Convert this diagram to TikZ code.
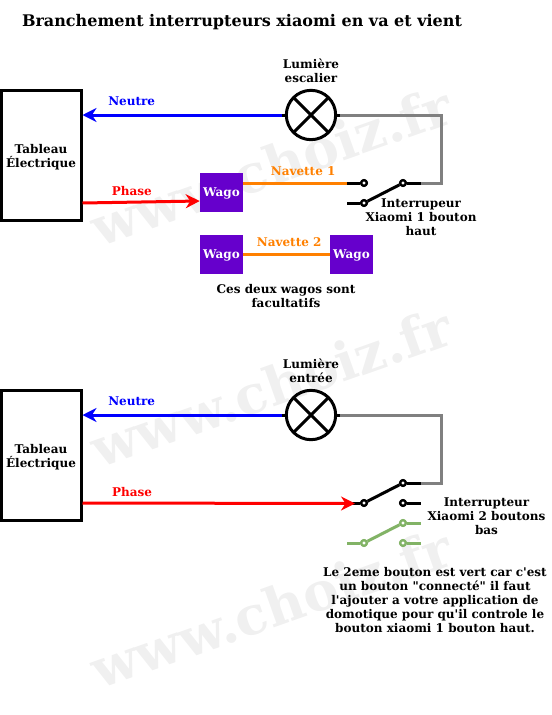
\documentclass[tikz,border=0pt]{standalone}
\usepackage{fontspec}
\setmainfont{DejaVu Serif}[BoldFont={DejaVu Serif Bold}, Ligatures=TeXOff]
\usetikzlibrary{positioning, calc, arrows.meta}
\definecolor{wagoviolet}{HTML}{6600CC}
\definecolor{navette}{HTML}{FF8000}
\definecolor{connecte}{HTML}{82B366}
\tikzset{
every node/.style = {font = \bfseries\fontsize{9}{10.5}\selectfont, align = center, inner sep = 0pt},
tableau/.style = {rectangle, draw, line width = 2.25pt, fill = white, minimum width = 60pt,
   minimum height = 97pt},
lampe/.style = {circle, draw, line width = 2.25pt, minimum size = 37pt, path picture = {
   \draw [line width = 2.25pt] (path picture bounding box.south west) -- (path picture bounding box.north east)
   (path picture bounding box.north west) -- (path picture bounding box.south east);}},
wago/.style = {rectangle, fill = wagoviolet, text = white, minimum width = 32.25pt, minimum height = 29.25pt},
borne/.style = {circle, draw = black, line width = 1.7pt, fill = white, minimum size = 4.2pt},
borneverte/.style = {borne, draw = connecte},
fil/.style = {line width = 2.25pt},
fleche/.style = {fil, -{Stealth[length = 10.5pt, width = 10.5pt]}},
marque/.style = {text = black!6, rotate = 19.5, font = \bfseries\fontsize{40}{42}\selectfont}
}
\begin{document}
\begin{tikzpicture}[x = 0.75pt, y = -0.75pt]
\useasboundingbox (0,0) rectangle (552,715);

%% Watermarks
\foreach \i/\y in {1/166, 2/387, 3/608}
   \node [marque] (marque\i) at (271,\y) {www.choiz.fr};

\node [font = \bfseries\fontsize{12}{14}\selectfont] (titre) at (242,22) {Branchement interrupteurs xiaomi en va et vient};

%% Escalier
\node [tableau] (tab1) at (41,155.5) {};
\node (txt1) at (41,157.5) {Tableau\\Électrique};
\node [lampe] (lamp1) at (311,115) {};
\node (lab1) [above = 4.5pt of lamp1] {Lumière\\escalier};
\node [wago] (w1) at (221.5,192.5) {\rule{0pt}{8pt}Wago};
\node [wago] (w2) at (221.5,254.5) {\rule{0pt}{8pt}Wago};
\node [wago] (w3) at (351.5,254.5) {\rule{0pt}{8pt}Wago};
\node [borne] (b1) at (364,183) {};
\node [borne] (b2) at (403,183) {};
\node [borne] (b3) at (364,203) {};
\coordinate (c1) at (347,183);
\coordinate (c2) at (421,183);
\coordinate (c3) at (441,183);
\coordinate (c4) at (441,115);
\coordinate (c5) at (347,203);
\coordinate (p1) at (tab1.east |- 0,203);

\draw [fleche, blue] (lamp1) -- (lamp1 -| tab1.east) node [midway, above = 6pt, xshift = -39pt, text = blue] (neutre1) {Neutre};
\draw [fleche, red] (p1) -- (w1.west |- 0,201) node [midway, above = 4pt, xshift = -7pt, text = red] (phase1) {Phase};
\draw [fil, navette] (w1.east |- c1) -- (c1) node [midway, above = 4.5pt, xshift = 6pt, text = navette] (nav1) {Navette 1};
\draw [fil, navette] (w2) -- (w3) node [midway, above = 5pt, xshift = 2pt, text = navette] (nav2) {Navette 2};
\draw [fil, black!50] (lamp1.east) -- (c4) -- (c3) -- (c2);
\draw [fil] (lamp1.west) -- ++(-3,0);
\draw [fil] (lamp1.east) -- ++(3,0);
\draw [fil] (c1) -- (b1);
\draw [fil] (b2) -- (c2);
\draw [fil] (c5) -- (b3);
\draw [fil] (b3) -- (b2);
\foreach \b in {b1,b2,b3} \node [borne] at (\b) {};
\node (int1) at (421,217) {Interrupeur\\Xiaomi 1 bouton\\haut};
\node (fac) at (286,296) {Ces deux wagos sont\\facultatifs};

%% Entree
\node [tableau] (tab2) at (41,455.5) {};
\node (txt2) at (41,457.5) {Tableau\\Électrique};
\node [lampe] (lamp2) at (311,415) {};
\node (lab2) [above = 4.5pt of lamp2] {Lumière\\entrée};
\node [borne] (b4) at (364,503) {};
\node [borne] (b5) at (403,483) {};
\node [borne] (b6) at (403,503) {};
\node [borneverte] (b7) at (403,523) {};
\node [borneverte] (b8) at (364,543) {};
\node [borneverte] (b9) at (403,543) {};
\coordinate (d1) at (347,503);
\coordinate (d2) at (421,483);
\coordinate (d3) at (441,483);
\coordinate (d4) at (441,415);
\coordinate (d5) at (421,503);
\coordinate (d6) at (421,523);
\coordinate (d7) at (347,543);
\coordinate (d8) at (421,543);

\draw [fleche, blue] (lamp2) -- (lamp2 -| tab2.east) node [midway, above = 6pt, xshift = -39pt, text = blue] (neutre2) {Neutre};
\draw [fil] (d1) -- (b4);
\draw [fleche, red] (tab2.east |- d1) -- (355,503.5) node [midway, above = 4pt, xshift = -65pt, text = red] (phase2) {Phase};
\draw [fil, black!50] (lamp2.east) -- (d4) -- (d3) -- (d2);
\draw [fil] (lamp2.west) -- ++(-3,0);
\draw [fil] (lamp2.east) -- ++(3,0);
\draw [fil] (b5) -- (d2);
\draw [fil] (b6) -- (d5);
\draw [fil] (b4) -- (b5);
\draw [fil, connecte] (b7) -- (d6);
\draw [fil, connecte] (d7) -- (b8);
\draw [fil, connecte] (b9) -- (d8);
\draw [fil, connecte] (b8) -- (b7);
\foreach \b in {b4,b5,b6} \node [borne] at (\b) {};
\foreach \b in {b7,b8,b9} \node [borneverte] at (\b) {};
\node (int2) at (486.5,516) {Interrupteur\\Xiaomi 2 boutons\\bas};
\node (note) at (435,600) {Le 2eme bouton est vert car c'est\\un bouton "connecté" il faut\\l'ajouter a votre application de\\domotique pour qu'il controle le\\bouton xiaomi 1 bouton haut.};

\end{tikzpicture}
\end{document}
